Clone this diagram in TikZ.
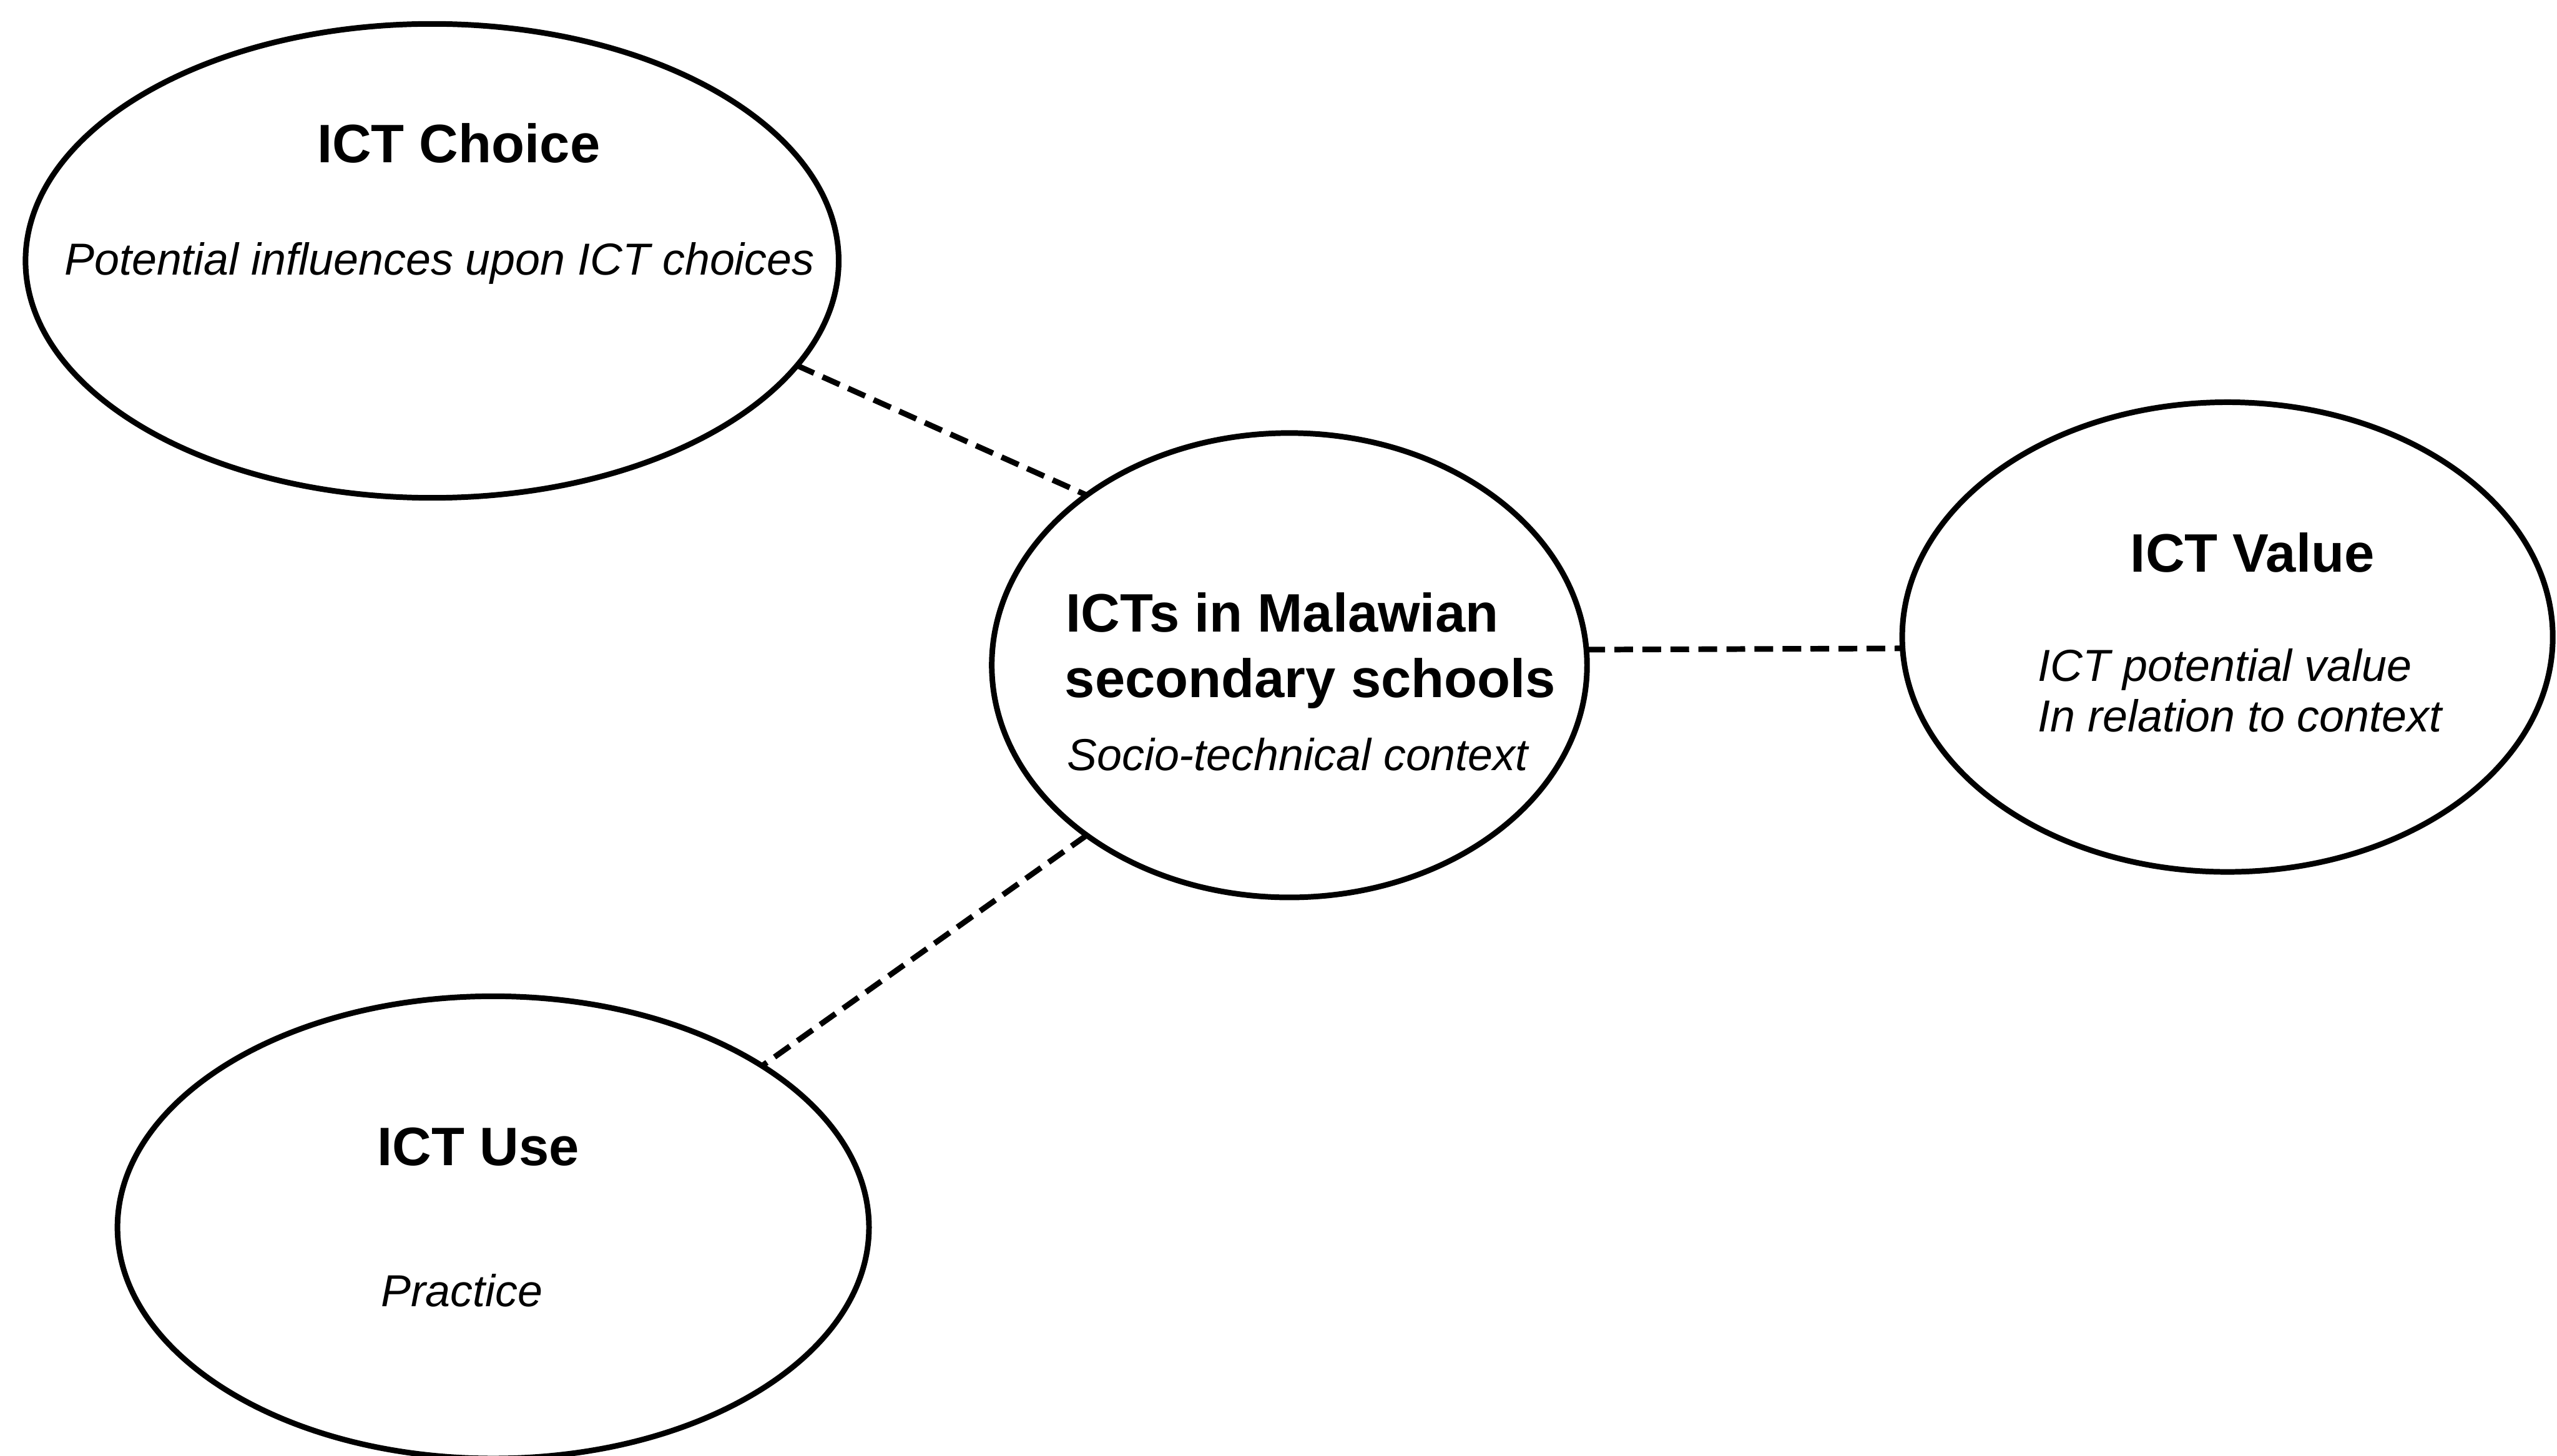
\documentclass[tikz,border=0pt]{standalone}
\usepackage{fontspec}
\setmainfont{Liberation Sans}
\usetikzlibrary{shapes.geometric}

\begin{document}
\begin{tikzpicture}[
  bubble/.style={draw,ellipse,line width=3pt,inner sep=0pt,outer sep=0pt},
  head/.style={anchor=base,inner sep=0pt,font=\fontsize{29}{35}\selectfont\bfseries},
  note/.style={anchor=base,inner sep=0pt,font=\fontsize{24}{29}\selectfont\itshape},
  link/.style={line width=3pt,dash pattern=on 10pt off 5pt}
]
\useasboundingbox (0,0) rectangle (48.11,27.40);
% the four ellipses
\node[bubble,minimum width=15.30cm,minimum height=8.92cm] (choice) at (8.13,22.49) {};
\node[bubble,minimum width=11.20cm,minimum height=8.74cm] (hub) at (24.26,14.88) {};
\node[bubble,minimum width=12.24cm,minimum height=8.84cm] (value) at (41.91,15.41) {};
\node[bubble,minimum width=14.14cm,minimum height=8.70cm] (use) at (9.28,4.30) {};
% texts
\node[head] (choicehead) at (8.63,24.34) {ICT Choice};
\node[note] (choicenote) at (8.27,22.23) {Potential influences upon ICT choices};
\node[head,anchor=base west] (hubhead1) at (20.05,15.51) {ICTs in Malawian};
\node[head,anchor=base west] (hubhead2) at (20.03,14.27) {secondary schools};
\node[note,anchor=base west] (hubnote) at (20.07,12.90) {Socio-technical context};
\node[head] (valuehead) at (42.38,16.64) {ICT Value};
\node[note,anchor=base west] (valuenote1) at (38.34,14.58) {ICT potential value};
\node[note,anchor=base west] (valuenote2) at (38.34,13.63) {In relation to context};
\node[head] (usehead) at (9.00,5.47) {ICT Use};
\node[note] (usenote) at (8.69,2.81) {Practice};
% dashed links
\draw[link] (choice.-16) -- (hub.140);
\draw[link] (hub.3) -- (value.182);
\draw[link] (hub.220) -- (use.31);
\end{tikzpicture}
\end{document}
